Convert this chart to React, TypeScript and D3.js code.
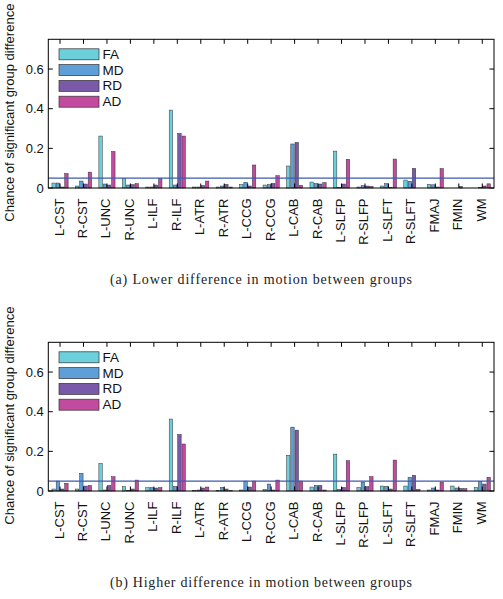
import React from "react";
import * as d3 from "d3";

const categories = ["L-CST","R-CST","L-UNC","R-UNC","L-ILF","R-ILF","L-ATR","R-ATR","L-CCG","R-CCG","L-CAB","R-CAB","L-SLFP","R-SLFP","L-SLFT","R-SLFT","FMAJ","FMIN","WM"];
const seriesNames = ["FA","MD","RD","AD"];
const seriesColors = ["#6ccfdc","#5e9ed9","#7a59a8","#c24a9f"];
const yTicks = [0, 0.2, 0.4, 0.6];
const threshold = 0.05;

const faA = [0.025,0.01,0.262,0.049,0.005,0.393,0.005,0.005,0.017,0.015,0.111,0.030,0.186,0.005,0.010,0.040,0.019,0.0,0.0];
const mdA = [0.025,0.035,0.02,0.015,0.005,0.015,0.005,0.01,0.029,0.017,0.222,0.022,0.002,0.012,0.022,0.034,0.016,0.0,0.003];
const rdA = [0.005,0.02,0.015,0.017,0.015,0.275,0.012,0.018,0.01,0.023,0.230,0.02,0.02,0.01,0.003,0.099,0.005,0.008,0.01];
const adA = [0.073,0.08,0.184,0.022,0.049,0.262,0.035,0.005,0.116,0.062,0.013,0.027,0.145,0.008,0.146,0.0,0.098,0.0,0.021];

const faB = [0.01,0.01,0.139,0.022,0.017,0.363,0.003,0.003,0.005,0.008,0.18,0.02,0.186,0.018,0.025,0.025,0.005,0.025,0.018];
const mdB = [0.05,0.089,0.005,0.003,0.017,0.022,0.005,0.018,0.05,0.035,0.322,0.028,0.008,0.045,0.023,0.069,0.015,0.015,0.047];
const rdB = [0.01,0.025,0.028,0.01,0.015,0.285,0.015,0.01,0.02,0.005,0.307,0.028,0.018,0.022,0.01,0.079,0.005,0.013,0.035];
const adB = [0.039,0.028,0.072,0.055,0.017,0.237,0.02,0.003,0.05,0.055,0.05,0.005,0.153,0.072,0.156,0.008,0.045,0.012,0.069];

const captionA = "(a) Lower difference in motion between groups";
const captionB = "(b) Higher difference in motion between groups";
const yLabel = "Chance of significant group difference";

const SANS = "'Liberation Sans', Arial, Helvetica, sans-serif";
const SERIF = "'Liberation Serif', 'Times New Roman', serif";

function Panel({ top, series, caption }: { top: number; series: number[][]; caption: string }) {
  const left = 48.3, right = 494, plotTop = top, bottom = top + 148.7;
  const x = d3.scaleLinear().domain([0.5, categories.length + 0.5]).range([left, right]);
  const y = d3.scaleLinear().domain([0, 0.75]).range([bottom, plotTop]);
  const gw = Math.min(0.8, 4 / 5.5);
  const bw = (gw / 4) * 0.8;
  const tickLen = 4.5;
  const unit = x(1) - x(0);
  return (
    <g>
      {series.map((vals, si) =>
        vals.map((v, ci) => {
          const cx = x(ci + 1) + (si - 1.5) * (gw / 4) * unit;
          const w = bw * unit;
          return (
            <rect key={`${si}-${ci}`} x={cx - w / 2} y={y(v)} width={w} height={Math.max(0, y(0) - y(v))}
              fill={seriesColors[si]} stroke="#333" strokeWidth={0.5} />
          );
        })
      )}
      <line x1={left} x2={right} y1={y(threshold)} y2={y(threshold)} stroke="#3d5bb0" strokeWidth={1.3} />
      <rect x={left} y={plotTop} width={right - left} height={bottom - plotTop} fill="none" stroke="#000" strokeWidth={1} />
      {categories.map((c, i) => (
        <g key={c}>
          <line x1={x(i + 1)} x2={x(i + 1)} y1={bottom} y2={bottom - tickLen} stroke="#000" />
          <line x1={x(i + 1)} x2={x(i + 1)} y1={plotTop} y2={plotTop + tickLen} stroke="#000" />
          <text transform={`translate(${x(i + 1) - 1},${bottom + 10.5}) rotate(-90)`} textAnchor="end"
            dominantBaseline="central" fontFamily={SANS} fontSize={13} fill="#111">{c}</text>
        </g>
      ))}
      {yTicks.map((t) => (
        <g key={t}>
          <line x1={left} x2={left + tickLen} y1={y(t)} y2={y(t)} stroke="#000" />
          <line x1={right} x2={right - tickLen} y1={y(t)} y2={y(t)} stroke="#000" />
          <text x={left - 4.5} y={y(t)} textAnchor="end" dominantBaseline="central" fontFamily={SANS} fontSize={13} fill="#111">{t === 0 ? "0" : t.toFixed(1)}</text>
        </g>
      ))}
      <text transform={`translate(14,${(plotTop + bottom) / 2 - 1}) rotate(-90)`} textAnchor="middle"
        fontFamily={SANS} fontSize={13} fill="#111">{yLabel}</text>
      {seriesNames.map((n, i) => (
        <g key={n}>
          <rect x={59} y={plotTop + 9.5 + i * 15.8} width={40} height={11} fill={seriesColors[i]} stroke="#333" strokeWidth={0.7} />
          <text x={102.5} y={plotTop + 15 + i * 15.8} dominantBaseline="central" fontFamily={SANS} fontSize={13.5} fill="#111">{n}</text>
        </g>
      ))}
      <text x={261} y={bottom + 96} textAnchor="middle" fontFamily={SERIF} fontSize={14} fill="#222"
        textLength={302} lengthAdjust="spacing">{caption}</text>
    </g>
  );
}

export default function App() {
  return (
    <svg width={503} height={599} style={{ position: "absolute", left: 0, top: 0, background: "#fff" }}>
      <rect width={503} height={599} fill="#fff" />
      <Panel top={39.3} series={[faA, mdA, rdA, adA]} caption={captionA} />
      <Panel top={342.3} series={[faB, mdB, rdB, adB]} caption={captionB} />
    </svg>
  );
}
